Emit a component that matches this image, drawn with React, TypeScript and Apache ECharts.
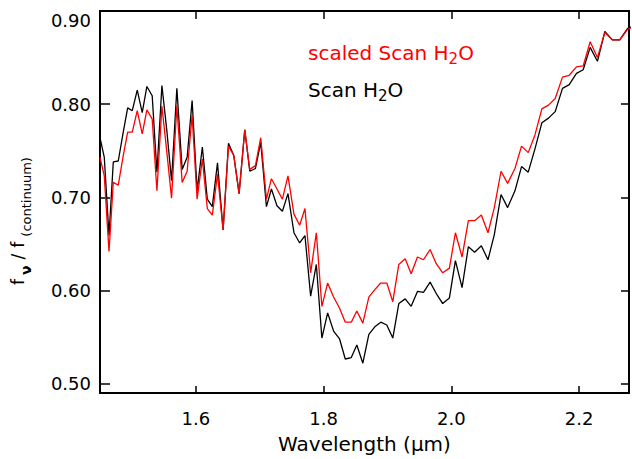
import React, { useEffect, useRef } from "react";
import * as echarts from "echarts";

// Wavelength (micron) of each spectral sample
const wavelength = [
  1.45, 1.4567, 1.4641, 1.4708, 1.4786, 1.4859, 1.4933, 1.5005, 1.5083, 1.5161,
  1.5234, 1.5317, 1.5391, 1.5469, 1.5547, 1.562, 1.5703, 1.5786, 1.5864, 1.5942,
  1.602, 1.6102, 1.618, 1.6258, 1.6339, 1.6427, 1.6511, 1.6594, 1.6677, 1.6766,
  1.6844, 1.6933, 1.7016, 1.7105, 1.7183, 1.727, 1.7355, 1.7442, 1.7536, 1.7625,
  1.7708, 1.7797, 1.7886, 1.7973, 1.8063, 1.8156, 1.825, 1.8339, 1.8433, 1.852,
  1.8614, 1.8708, 1.8802, 1.8895, 1.8989, 1.9083, 1.9177, 1.9277, 1.937, 1.9469,
  1.9563, 1.9667, 1.9761, 1.9864, 1.9969, 2.0063, 2.0167, 2.0266, 2.0364, 2.0469,
  2.0573, 2.0672, 2.0777, 2.088, 2.0995, 2.1098, 2.1203, 2.1308, 2.1416, 2.152,
  2.1625, 2.1739, 2.1844, 2.1958, 2.2063, 2.2172, 2.2286, 2.2402, 2.252, 2.2636,
  2.2755, 2.2875,
];

// red: scaled Scan H2O
const scaledScanH2O = [
  0.743, 0.723, 0.642, 0.716, 0.713, 0.743, 0.77, 0.77, 0.793, 0.768,
  0.794, 0.784, 0.707, 0.798, 0.748, 0.699, 0.798, 0.716, 0.728, 0.788,
  0.698, 0.741, 0.688, 0.681, 0.725, 0.665, 0.755, 0.745, 0.704, 0.7725,
  0.73, 0.734, 0.764, 0.698, 0.72, 0.709, 0.698, 0.723, 0.682, 0.67,
  0.688, 0.619, 0.662, 0.583, 0.608, 0.593, 0.581, 0.566, 0.566, 0.578,
  0.565, 0.593, 0.601, 0.608, 0.608, 0.588, 0.628, 0.634, 0.618, 0.636,
  0.633, 0.644, 0.629, 0.619, 0.624, 0.662, 0.636, 0.675, 0.675, 0.681,
  0.662, 0.689, 0.728, 0.715, 0.731, 0.755, 0.748, 0.767, 0.795, 0.799,
  0.806, 0.829, 0.831, 0.84, 0.841, 0.867, 0.85, 0.877, 0.869, 0.869,
  0.88, 0.884,
];

// black: Scan H2O
const scanH2O = [
  0.764, 0.743, 0.659, 0.738, 0.739, 0.768, 0.796, 0.793, 0.815, 0.791,
  0.819, 0.809, 0.727, 0.82, 0.771, 0.718, 0.817, 0.73, 0.743, 0.804,
  0.707, 0.754, 0.698, 0.69, 0.737, 0.665, 0.758, 0.745, 0.704, 0.7725,
  0.728, 0.731, 0.759, 0.69, 0.709, 0.691, 0.685, 0.704, 0.662, 0.651,
  0.659, 0.594, 0.628, 0.549, 0.576, 0.5565, 0.548, 0.5265, 0.528, 0.5415,
  0.522, 0.553, 0.561, 0.566, 0.563, 0.549, 0.586, 0.591, 0.583, 0.599,
  0.598, 0.609, 0.597, 0.586, 0.592, 0.632, 0.603, 0.647, 0.641, 0.648,
  0.633, 0.66, 0.703, 0.689, 0.707, 0.733, 0.727, 0.752, 0.78, 0.785,
  0.792, 0.817, 0.821, 0.833, 0.837, 0.861, 0.846, 0.878, 0.869, 0.869,
  0.881, 0.885,
];

const xTickLabels = [1.6, 1.8, 2.0, 2.2];
const yTickLabels = [0.5, 0.6, 0.7, 0.8, 0.9];

const FONT = "DejaVu Sans";

const inList = (v: number, list: number[]) => list.some((t) => Math.abs(t - v) < 1e-6);

export default function App() {
  const ref = useRef<HTMLDivElement>(null);

  useEffect(() => {
    if (!ref.current) return;
    const chart = echarts.init(ref.current, undefined, { renderer: "svg" });

    const axisLine = { show: true, lineStyle: { color: "#000", width: 2 } };
    const tickStyle = { color: "#000", width: 1.5 };
    const xRange = { min: 1.45, max: 2.278, splitNumber: 4 };
    const yRange = { min: 0.49, max: 0.9, splitNumber: 4 };

    const legendRich = (color: string) => ({
      n: { fontSize: 20, fontFamily: FONT, fill: color, lineHeight: 26 },
      s: { fontSize: 15, fontFamily: FONT, fill: color, lineHeight: 14, verticalAlign: "bottom" },
    });

    const option: any = {
      animation: false,
      grid: { left: 100, right: 2, top: 11, bottom: 64 },
      xAxis: [
        {
          type: "value",
          position: "bottom",
          ...xRange,
          axisLine,
          axisTick: { show: true, inside: true, length: 7, lineStyle: tickStyle },
          splitLine: { show: false },
          axisLabel: {
            margin: 16,
            color: "#000",
            fontSize: 18,
            fontFamily: FONT,
            formatter: (v: number) => (inList(v, xTickLabels) ? v.toFixed(1) : ""),
          },
          name: "Wavelength (μm)",
          nameLocation: "middle",
          nameGap: 41,
          nameTextStyle: { color: "#000", fontSize: 20, fontFamily: FONT },
        },
        {
          type: "value",
          position: "top",
          ...xRange,
          axisLine,
          axisTick: { show: true, inside: true, length: 8, lineStyle: tickStyle },
          splitLine: { show: false },
          axisLabel: { show: false },
        },
      ],
      yAxis: [
        {
          type: "value",
          position: "left",
          ...yRange,
          axisLine,
          axisTick: { show: true, inside: true, length: 10, lineStyle: tickStyle },
          splitLine: { show: false },
          axisLabel: {
            margin: 9,
            color: "#000",
            fontSize: 18,
            fontFamily: FONT,
            formatter: (v: number) => {
              if (!inList(v, yTickLabels)) return "";
              if (Math.abs(v - 0.9) < 1e-6) return "{top|" + v.toFixed(2) + "}";
              return v.toFixed(2);
            },
            rich: {
              top: { fontSize: 18, fontFamily: FONT, color: "#000", padding: [18, 0, 0, 0] },
            },
          },
        },
        {
          type: "value",
          position: "right",
          ...yRange,
          axisLine,
          axisTick: { show: true, inside: true, length: 8, lineStyle: tickStyle },
          splitLine: { show: false },
          axisLabel: { show: false },
        },
      ],
      series: [
        {
          name: "Scan H2O",
          type: "line",
          xAxisIndex: 0,
          yAxisIndex: 0,
          data: wavelength.map((w, i) => [w, scanH2O[i]]),
          symbol: "none",
          showSymbol: false,
          lineStyle: { color: "#000000", width: 1.3 },
          itemStyle: { color: "#000000" },
          z: 2,
        },
        {
          name: "scaled Scan H2O",
          type: "line",
          xAxisIndex: 0,
          yAxisIndex: 0,
          data: wavelength.map((w, i) => [w, scaledScanH2O[i]]),
          symbol: "none",
          showSymbol: false,
          lineStyle: { color: "#ff0000", width: 1.3 },
          itemStyle: { color: "#ff0000" },
          z: 3,
        },
      ],
      graphic: [
        {
          type: "text",
          x: 18,
          y: 221.5,
          rotation: Math.PI / 2,
          style: {
            text: "{m|f}{v|ν}{m|/}{m|f}{s|(continuum)}",
            align: "center",
            verticalAlign: "middle",
            fill: "#000",
            rich: {
              m: { fontSize: 17, fontFamily: FONT, fill: "#000", lineHeight: 30, padding: [0, 3] },
              v: { fontSize: 14, fontFamily: FONT, fontWeight: "bold", fill: "#000", lineHeight: 14, verticalAlign: "bottom", padding: [0, 3, 0, 1] },
              s: { fontSize: 13, fontFamily: FONT, fill: "#000", lineHeight: 13, verticalAlign: "bottom", padding: [0, 2] },
            },
          },
        },
        {
          type: "text",
          x: 308,
          y: 53,
          style: {
            text: "{n|scaled Scan H}{s|2}{n|O}",
            align: "left",
            verticalAlign: "middle",
            fill: "#ff0000",
            rich: legendRich("#ff0000"),
          },
        },
        {
          type: "text",
          x: 308,
          y: 90,
          style: {
            text: "{n|Scan H}{s|2}{n|O}",
            align: "left",
            verticalAlign: "middle",
            fill: "#000",
            rich: legendRich("#000000"),
          },
        },
      ],
    };

    chart.setOption(option);
    return () => chart.dispose();
  }, []);

  return (
    <div
      ref={ref}
      style={{ position: "fixed", left: 0, top: 0, width: 632, height: 459, background: "#fff" }}
    />
  );
}
